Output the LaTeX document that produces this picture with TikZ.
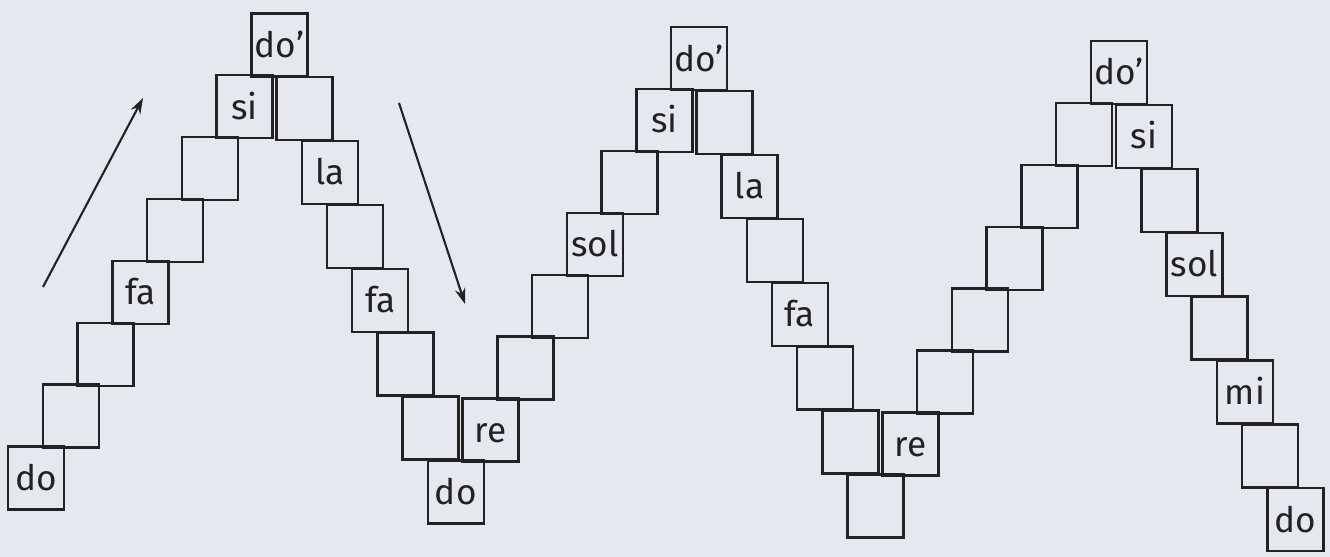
\documentclass[tikz,border=0pt]{standalone}
\usepackage{fontspec}
\setmainfont{Fira Sans}
\usetikzlibrary{arrows.meta}
\definecolor{scanink}{RGB}{34,34,36}
\definecolor{scanpaper}{RGB}{229,232,239}

\begin{document}
\begin{tikzpicture}[
    notebox/.style={draw=scanink, line width=1.4pt, minimum width=1.12cm, minimum height=1.26cm,
      inner sep=0pt, text=scanink, font=\fontsize{20}{23}\selectfont, text height=14pt, text depth=0pt},
    stairarrow/.style={-{Stealth[length=9pt,width=6pt]}, draw=scanink, line width=1.2pt}]
  % paper
  \fill[scanpaper] (0,0) rectangle (26.6,11.14);
  \useasboundingbox (0,0) rectangle (26.6,11.14);
  % staircase: each box one step on, one row up or down
  \begin{scope}[shift={(0.72,1.58)}, rotate=-1.9]
    \foreach \r/\t [count=\s from 0] in {0/do, 1/{}, 2/{}, 3/fa, 4/{}, 5/{}, 6/si, 7/do',
        6/{}, 5/la, 4/{}, 3/fa, 2/{}, 1/{}, 0/do,
        1/re, 2/{}, 3/{}, 4/sol, 5/{}, 6/si, 7/do',
        6/{}, 5/la, 4/{}, 3/fa, 2/{}, 1/{}, 0/{},
        1/re, 2/{}, 3/{}, 4/{}, 5/{}, 6/{}, 7/do',
        6/si, 5/{}, 4/sol, 3/{}, 2/mi, 1/{}, 0/do}
      \node[notebox] (b\s) at ({0.6*\s+0.054*\r},{1.26*\r}) {\t};
  \end{scope}
  % arrows
  \coordinate (upfrom) at (0.86,5.40);
  \coordinate (upto) at (2.86,9.18);
  \coordinate (downfrom) at (7.98,9.08);
  \coordinate (downto) at (9.30,5.06);
  \draw[stairarrow] (upfrom) -- (upto);
  \draw[stairarrow] (downfrom) -- (downto);
\end{tikzpicture}
\end{document}
